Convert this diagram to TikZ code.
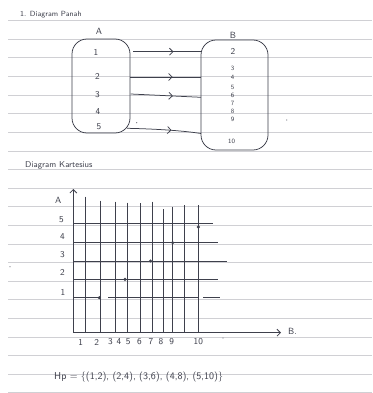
\documentclass[tikz,border=0pt]{standalone}
\usetikzlibrary{arrows.meta,decorations.markings}
\definecolor{ink}{RGB}{62,64,76}
\definecolor{ruling}{RGB}{208,208,212}
\begin{document}
\begin{tikzpicture}[x=1pt,y=-1pt,
  pen/.style={draw=ink,line width=0.75pt},
  hand/.style={text=ink,font=\sffamily\fontsize{9}{10}\selectfont,inner sep=0pt},
  tiny/.style={text=ink,font=\sffamily\fontsize{6.5}{7}\selectfont,inner sep=0pt},
  setbox/.style={pen,rounded corners=15pt,inner sep=0pt},
  midarrow/.style={pen,postaction={decorate},
    decoration={markings,mark=at position 0.6 with {\arrow{Straight Barb[length=3.5pt,width=7pt]}}}},
  axisarrow/.style={pen,-{Straight Barb[length=3.5pt,width=7pt]}},
  gridline/.style={draw=ink,line width=0.6pt},
  dotmark/.style={circle,fill=ink,inner sep=0pt,minimum size=3.4pt},
  speck/.style={circle,fill=ink!70,inner sep=0pt,minimum size=1.4pt},
]
% paper and ruling
\fill[white] (0,0) rectangle (372,393);
\useasboundingbox (0,0) rectangle (372,393);
\foreach \k in {0,...,20}
  \draw[ruling,line width=0.6pt] (8,20.6+18.6*\k) -- (372,20.6+18.6*\k);

% ---------- arrow diagram ----------
\node[hand,anchor=west,font=\sffamily\fontsize{7.5}{8}\selectfont] (title1) at (20,14.5) {1. Diagram Panah};

\node[setbox,minimum width=58pt,minimum height=94pt] (setA) at (101,86) {};
\node[setbox,minimum width=67pt,minimum height=110pt] (setB) at (234.5,95) {};
\node[hand] (labA) at (99,31) {A};
\node[hand] (labB) at (233,35) {B};

\node[hand] (a1) at (96,52) {1};
\node[hand] (a2) at (97.5,76) {2};
\node[hand] (a3) at (97.5,95) {3};
\node[hand] (a4) at (98,112) {4};
\node[hand] (a5) at (99,127) {5};

\node[hand] (b2) at (233,51) {2};
\node[tiny] (b3) at (232.7,68.5) {3};
\node[tiny] (b4) at (232.7,77) {4};
\node[tiny] (b5) at (232.7,87.5) {5};
\node[tiny] (b6) at (232.7,95) {6};
\node[tiny] (b7) at (232.7,103) {7};
\node[tiny] (b8) at (232.7,111) {8};
\node[tiny] (b9) at (232.7,119) {9};
\node[tiny] (b10) at (231.5,141) {10};

% arrow ends on the set borders
\coordinate (s1) at (133,51.7);   \coordinate (e1) at (200.5,51.7);
\coordinate (s2) at (130,77);     \coordinate (e2) at (201,77);
\coordinate (s3) at (130.7,94);   \coordinate (e3) at (201,97.3);
\coordinate (s5) at (127,128.3);  \coordinate (e5) at (201,133.5);
\draw[midarrow] (s1) -- (e1);
\draw[midarrow] (s2) -- (e2);
\draw[midarrow] (s3) -- (e3);
\draw[midarrow] (s5) .. controls (160,129) and (185,131) .. (e5);

\node[speck] (sp1) at (136.7,122.7) {};
\node[speck] (sp2) at (286.7,120) {};

% ---------- cartesian diagram ----------
\node[hand,anchor=west,font=\sffamily\fontsize{8.5}{9}\selectfont] (title2) at (25,165) {Diagram Kartesius};

\coordinate (O) at (73.3,332.7);
\coordinate (ytop) at (73.3,189);
\coordinate (xend) at (281,332.7);

% vertical rulings of the grid
\foreach \x/\t in {85/196.7,100/200.7,115/201.7,127.3/202.7,140.7/203.3,
                   152.7/201.7,163.3/209.3,172.7/206.7,184.3/205,198.3/205}
  \draw[gridline] (\x,\t) -- (\x,332.7);
% horizontal rulings of the grid
\draw[gridline] (73.3,223.3) -- (213,223.3);
\draw[gridline] (73.3,242.3) -- (218,242.3);
\draw[gridline] (73.3,261) -- (227,261);
\draw[gridline] (73.3,279.3) -- (218,279.3);
\draw[gridline] (73.3,297.7) -- (99.3,297.7);
\draw[gridline] (108.3,297.7) -- (198.3,297.7);
\draw[gridline] (203,297.7) -- (220,297.7);

\draw[axisarrow] (O) -- (ytop);
\draw[axisarrow] (O) -- (xend);
\node[hand] (axA) at (58.3,200) {A};
\node[hand,anchor=west] (axB) at (288,331.5) {B.};

\node[hand] (y5) at (61.5,220) {5};
\node[hand] (y4) at (62.5,237) {4};
\node[hand] (y3) at (62.5,254.5) {3};
\node[hand] (y2) at (62.5,272) {2};
\node[hand] (y1) at (63,292) {1};

\foreach \x/\n in {80.7/1,96.7/2,110.5/3,119/4,128.3/5,139.5/6,151/7,161/8,171.7/9,198.3/10}
  \node[hand] (x\n) at (\x,342) {\n};

\node[dotmark] (p1) at (99.3,297.7) {};
\node[dotmark] (p2) at (125,279.3) {};
\node[dotmark] (p3) at (150.5,261) {};
\node[dotmark] (p4) at (172.7,242.7) {};
\node[dotmark] (p5) at (198.3,227) {};

\node[speck] (sp3) at (223,338) {};
\node[speck] (sp4) at (10,266.7) {};

% relation as a set of pairs
\node[hand,anchor=west,font=\sffamily\fontsize{10}{11}\selectfont] (rel) at (54,377)
  {Hp = \{(1,2), (2,4), (3,6), (4,8), (5,10)\}};
\end{tikzpicture}
\end{document}
